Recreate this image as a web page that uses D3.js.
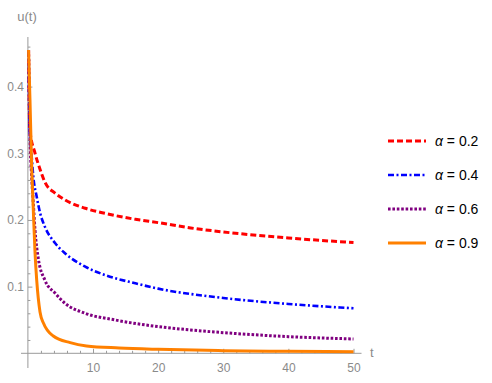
<!DOCTYPE html>
<html>
<head>
<meta charset="utf-8">
<script src="https://cdn.jsdelivr.net/npm/d3@7"></script>
<style>
  body { margin: 0; background: #fff; }
  text { font-family: "Liberation Sans", Arial, sans-serif; }
</style>
</head>
<body>
<div id="chart"></div>
<script>
// values: [t, u(t)]
var alphas = ["0.2", "0.4", "0.6", "0.9"];
var red02 = [[0.1,0.455],[0.3,0.335],[1.1,0.30],[1.9,0.275],[2.6,0.257],[4.2,0.24],[5.7,0.23],[8.8,0.2175],[11.8,0.21],[16.5,0.201],[20,0.196],[25,0.188],[30,0.182],[40,0.173],[50,0.166]];
var blue04 = [[0.1,0.455],[0.3,0.33],[0.58,0.295],[0.83,0.265],[1.35,0.235],[1.86,0.211],[2.6,0.19],[4.2,0.165],[5.7,0.15],[8.8,0.13],[11.8,0.1175],[16.5,0.105],[20,0.097],[30,0.083],[40,0.074],[50,0.0675]];
var purple06 = [[0.1,0.455],[0.3,0.33],[0.55,0.27],[0.83,0.225],[1.09,0.185],[1.6,0.142],[2.6,0.11],[4.2,0.09],[5.7,0.075],[8.8,0.06],[13.4,0.05],[20,0.04],[25,0.035],[30,0.031],[40,0.025],[50,0.0215]];
var orange09 = [[0.1,0.455],[0.32,0.38],[0.58,0.28],[0.83,0.215],[1.1,0.15],[1.35,0.11],[1.86,0.062],[2.4,0.045],[3.9,0.026],[6.5,0.016],[9,0.011],[14,0.008],[20,0.006],[30,0.004],[40,0.003],[50,0.0025]];
var xTicks = [10, 20, 30, 40, 50];
var yTicks = [0.1, 0.2, 0.3, 0.4];

var series = [
  { label: alphas[0], data: red02,    color: "#ff0000", dash: "6,3",         width: 3 },
  { label: alphas[1], data: blue04,   color: "#0000ff", dash: "6,2.5,2,2.5", width: 2.6 },
  { label: alphas[2], data: purple06, color: "#800080", dash: "2.6,1.8",     width: 3 },
  { label: alphas[3], data: orange09, color: "#ff8000", dash: null,          width: 3 }
];

var width = 492, height = 383;
var axisColor = "#9a9a9a", labelColor = "#8a8a8a";

var svg = d3.select("#chart").append("svg")
    .attr("width", width)
    .attr("height", height);

var x = d3.scaleLinear().domain([0, 50]).range([27.9, 353.5]);
var y = d3.scaleLinear().domain([0, 0.4]).range([353.3, 86.6]);

// x axis
var xMinor = d3.range(2, 51, 2).filter(function(d) { return d % 10 != 0; });
svg.append("g")
    .attr("transform", "translate(0," + y(0) + ")")
    .call(d3.axisBottom(x).tickValues(xMinor).tickSize(-2.5).tickFormat(""))
    .call(function(g) { g.select(".domain").remove(); g.selectAll("line").attr("stroke", axisColor); });

svg.append("g")
    .attr("transform", "translate(0," + y(0) + ")")
    .call(d3.axisBottom(x).tickValues(xTicks).tickSize(-4.5).tickPadding(10))
    .call(function(g) {
      g.select(".domain").remove();
      g.selectAll("line").attr("stroke", axisColor);
      g.selectAll("text").attr("fill", labelColor).style("font-size", "12px");
    });

svg.append("line")
    .attr("x1", 21).attr("x2", 361.5)
    .attr("y1", y(0)).attr("y2", y(0))
    .attr("stroke", axisColor).attr("stroke-width", 1);

// y axis
var yMinor = d3.range(0.02, 0.47, 0.02).filter(function(d) { return Math.abs(d * 10 - Math.round(d * 10)) > 1e-6; });
svg.append("g")
    .attr("transform", "translate(" + x(0) + ",0)")
    .call(d3.axisLeft(y).tickValues(yMinor).tickSize(-2.5).tickFormat(""))
    .call(function(g) { g.select(".domain").remove(); g.selectAll("line").attr("stroke", axisColor); });

svg.append("g")
    .attr("transform", "translate(" + x(0) + ",0)")
    .call(d3.axisLeft(y).tickValues(yTicks).tickSize(-4.5).tickPadding(4).tickFormat(d3.format(".1f")))
    .call(function(g) {
      g.select(".domain").remove();
      g.selectAll("line").attr("stroke", axisColor);
      g.selectAll("text").attr("fill", labelColor).style("font-size", "12px");
    });

svg.append("line")
    .attr("x1", x(0)).attr("x2", x(0))
    .attr("y1", 37).attr("y2", 368)
    .attr("stroke", axisColor).attr("stroke-width", 1);

svg.append("text")
    .attr("x", 370).attr("y", y(0) + 4)
    .attr("fill", labelColor)
    .style("font-size", "13px")
    .text("t");

svg.append("text")
    .attr("x", 27).attr("y", 21)
    .attr("text-anchor", "middle")
    .attr("fill", labelColor)
    .style("font-size", "13px")
    .text("u(t)");

// curves
var line = d3.line()
    .x(function(d) { return x(d[0]); })
    .y(function(d) { return y(d[1]); })
    .curve(d3.curveMonotoneX);

svg.selectAll(".curve")
    .data(series)
    .enter().append("path")
      .attr("class", "curve")
      .attr("fill", "none")
      .attr("stroke", function(d) { return d.color; })
      .attr("stroke-width", function(d) { return d.width; })
      .attr("stroke-dasharray", function(d) { return d.dash; })
      .attr("d", function(d) { return line(d.data); });

// legend
var legend = svg.selectAll(".legend")
    .data(series)
    .enter().append("g")
      .attr("class", "legend")
      .attr("transform", function(d, i) { return "translate(388," + (141 + i * 34) + ")"; });

legend.append("line")
    .attr("x1", 0).attr("x2", 38)
    .attr("stroke", function(d) { return d.color; })
    .attr("stroke-width", function(d) { return d.width; })
    .attr("stroke-dasharray", function(d) { return d.dash; });

var lt = legend.append("text")
    .attr("x", 47).attr("y", 5)
    .attr("fill", "#000")
    .style("font-size", "14px");
lt.append("tspan").style("font-style", "italic").text("α");
lt.append("tspan").text(function(d) { return " = " + d.label; });
</script>
</body>
</html>
